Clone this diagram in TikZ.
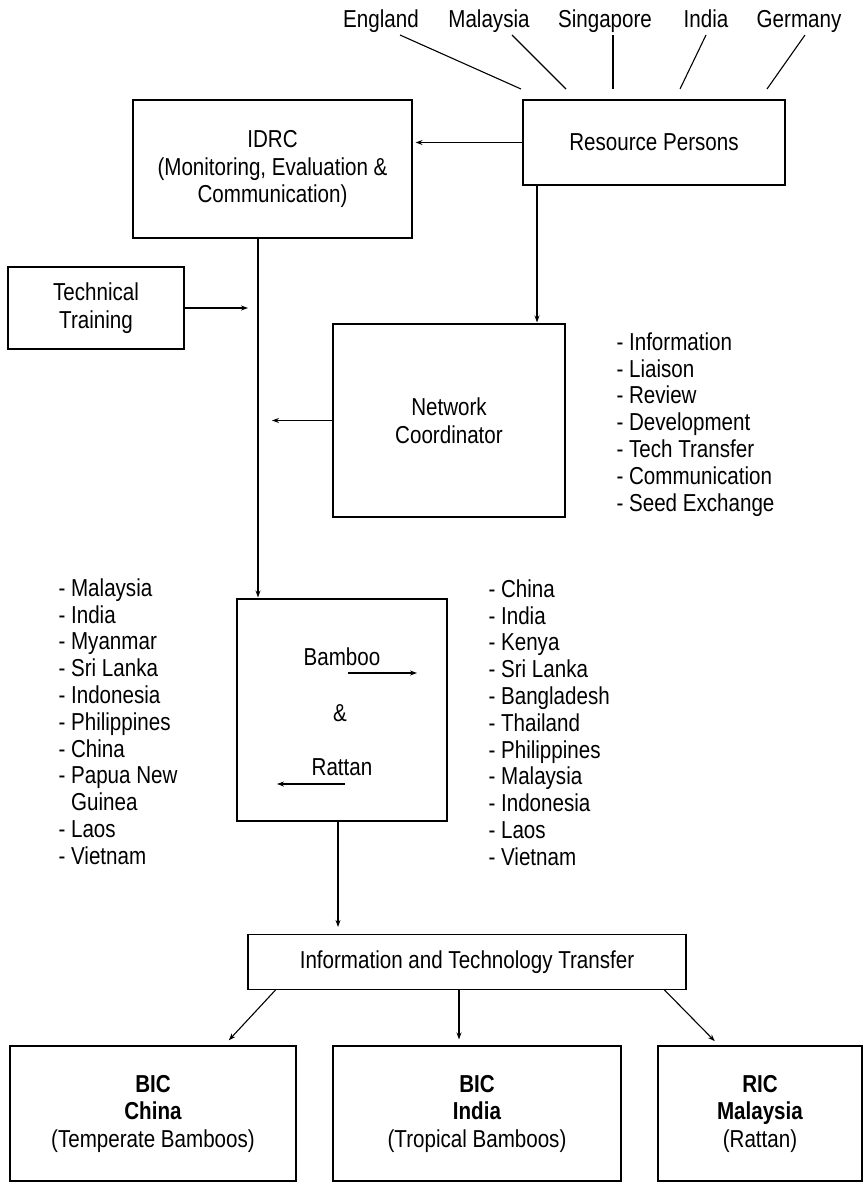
\documentclass[tikz,border=0pt]{standalone}
\usepackage{fontspec}
\setmainfont{Liberation Sans}[FakeStretch=0.84]
\usetikzlibrary{arrows.meta,calc}

\begin{document}
\begin{tikzpicture}[x=1pt, y=-1pt, line width=1.1pt,
  >={Stealth[length=7pt,width=5pt]},
  font=\fontsize{24.5}{27.5}\selectfont,
  box/.style={draw, align=center, inner sep=0pt},
  list/.style={align=left, anchor=north west, inner sep=0pt, font=\fontsize{24.5}{26.8}\selectfont}]
\useasboundingbox (0,0) rectangle (867,1186);
\node[box, minimum width=262pt, minimum height=85pt] (rp) at (654,142.5) {Resource Persons};
% countries feeding the resource persons
\foreach \name/\lx/\sx/\ex [count=\i] in {England/381/400/521, Malaysia/489/512/566, Singapore/605/613/613, India/706/706/680, Germany/799/805/767} {
  \node[anchor=base] (cty\i) at (\lx,27) {\name};
  \coordinate (top\i) at (\sx,35);
  \coordinate (rpin\i) at (\ex,89);
  \draw (top\i) -- (rpin\i);
}
\node[box, minimum width=279pt, minimum height=138pt] (idrc) at (272.5,169) {IDRC\\(Monitoring, Evaluation \&\\Communication)};
\node[box, minimum width=176pt, minimum height=82pt] (tt) at (96,308) {Technical\\Training};
\node[box, minimum width=232pt, minimum height=193pt] (nc) at (449,420.5) {Network\\Coordinator};
\node[list] (nclist) at (616,332) {- Information\\- Liaison\\- Review\\- Development\\- Tech Transfer\\- Communication\\- Seed Exchange};
% bamboo and rattan box
\node[box, minimum width=210pt, minimum height=222pt] (bam) at (342,710) {};
\node (bm) at (342,657) {Bamboo};
\node (amp) at (340,713) {\&};
\node (ra) at (342,767) {Rattan};
\draw[->] ([xshift=6pt,yshift=-16pt]bm.center) -- ++(69,0);
\draw[->] ([xshift=3pt,yshift=-17pt]ra.center) -- ++(-68,0);
\node[list] (leftlist) at (58,578) {- Malaysia\\- India\\- Myanmar\\- Sri Lanka\\- Indonesia\\- Philippines\\- China\\- Papua New\\\hphantom{- }Guinea\\- Laos\\- Vietnam};
\node[list] (rightlist) at (488,579) {- China\\- India\\- Kenya\\- Sri Lanka\\- Bangladesh\\- Thailand\\- Philippines\\- Malaysia\\- Indonesia\\- Laos\\- Vietnam};
\node[box, minimum width=438pt, minimum height=55pt] (itt) at (467,962) {Information and Technology Transfer};
% the three centres
\node[box, minimum width=286pt, minimum height=135pt] (bicc) at (153,1113.5) {\textbf{BIC}\\\textbf{China}\\(Temperate Bamboos)};
\node[box, minimum width=288pt, minimum height=135pt] (bici) at (477,1113.5) {\textbf{BIC}\\\textbf{India}\\(Tropical Bamboos)};
\node[box, minimum width=204pt, minimum height=135pt] (ric) at (760,1113.5) {\textbf{RIC}\\\textbf{Malaysia}\\(Rattan)};
% connectors
\coordinate (spine) at (258,0);
\coordinate (drop) at (537,0);
\coordinate (down) at (338,0);
\draw[->, shorten >=3pt] (rp.west) -- (rp.west -| idrc.east);
\draw[->, shorten >=1pt] (idrc.south -| spine) -- (bam.north -| spine);
\draw[->, shorten >=10pt] (tt.east) -- (tt.east -| spine);
\draw[->, shorten >=14pt] (nc.west) -- (nc.west -| spine);
\draw[->, shorten >=1pt] (rp.south -| drop) -- (nc.north -| drop);
\draw[->, shorten >=7pt] (bam.south -| down) -- (itt.north -| down);
\draw[->, shorten >=7pt] ($(itt.south west)+(28,0)$) -- ($(bicc.north)+(71,0)$);
\draw[->, shorten >=6pt] ($(itt.south)+(-8,0)$) -- ($(bici.north)+(-18,0)$);
\draw[->, shorten >=6pt] ($(itt.south east)+(-22,0)$) -- ($(ric.north)+(-41,0)$);
\end{tikzpicture}
\end{document}
